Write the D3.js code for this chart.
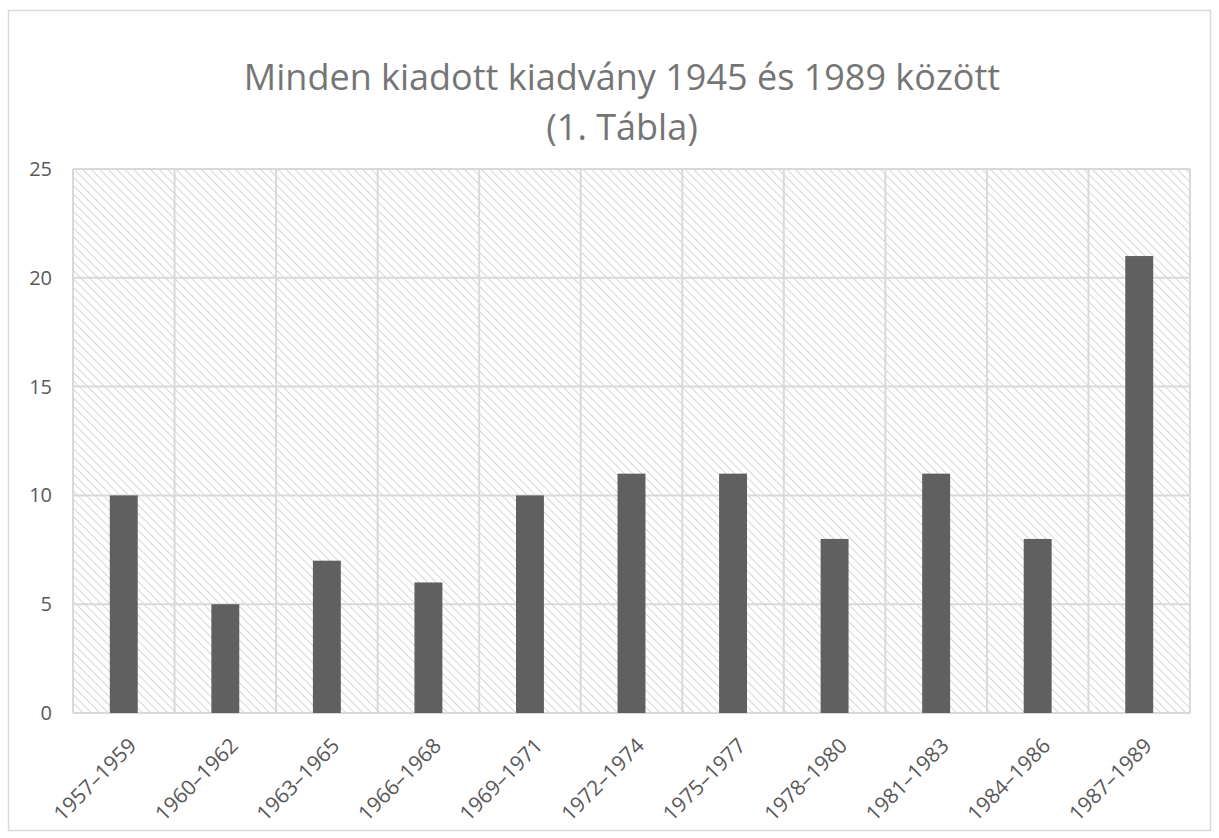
<!DOCTYPE html>
<html>
<head>
<meta charset="utf-8">
<script src="https://cdn.jsdelivr.net/npm/d3@7/dist/d3.min.js"></script>
<style>
  body { margin: 0; background: #fff; }
  text { font-family: "Open Sans", "Noto Sans", sans-serif; fill: #595959; }
</style>
</head>
<body>
<svg id="chart"></svg>
<script>
var categories = ["1957–1959", "1960–1962", "1963–1965", "1966–1968", "1969–1971",
                  "1972–1974", "1975–1977", "1978–1980", "1981–1983", "1984–1986", "1987–1989"];
var values = [10, 5, 7, 6, 10, 11, 11, 8, 11, 8, 21];
var yTicks = [0, 5, 10, 15, 20, 25];
var titleLines = ["Minden kiadott kiadvány 1945 és 1989 között", "(1. Tábla)"];

var W = 1219, H = 838,
    margin = {top: 169, right: 29, bottom: 125, left: 73},
    width = W - margin.left - margin.right,
    height = H - margin.top - margin.bottom;

var svg = d3.select("#chart").attr("width", W).attr("height", H);

// hatch pattern for plot background
var defs = svg.append("defs");
defs.append("pattern")
    .attr("id", "hatch")
    .attr("patternUnits", "userSpaceOnUse")
    .attr("width", 6).attr("height", 6)
    .attr("patternTransform", "rotate(-45)")
  .append("line")
    .attr("x1", 0).attr("y1", 0).attr("x2", 0).attr("y2", 6)
    .attr("stroke", "#d6d6d6").attr("stroke-width", 2);

// outer border
svg.append("rect")
    .attr("x", 8.5).attr("y", 10.5)
    .attr("width", W - 17).attr("height", H - 18)
    .attr("fill", "none").attr("stroke", "#d9d9d9").attr("stroke-width", 1.5);

// title
svg.append("text")
    .attr("x", 622).attr("y", 90)
    .attr("text-anchor", "middle")
    .style("font-size", "36px")
    .style("fill", "#757575")
    .selectAll("tspan")
    .data(titleLines)
  .enter().append("tspan")
    .attr("x", 622)
    .attr("dy", function(d, i) { return i === 0 ? 0 : 50; })
    .text(function(d) { return d; });

var g = svg.append("g")
    .attr("transform", "translate(" + margin.left + "," + margin.top + ")");

var x = d3.scaleBand().domain(categories).range([0, width]).paddingInner(0).paddingOuter(0),
    y = d3.scaleLinear().domain([0, 25]).range([height, 0]);

g.append("rect")
    .attr("width", width).attr("height", height)
    .attr("fill", "url(#hatch)");

// horizontal gridlines
g.selectAll(".hgrid")
    .data(yTicks)
  .enter().append("line")
    .attr("class", "hgrid")
    .attr("x1", 0).attr("x2", width)
    .attr("y1", function(d) { return y(d); })
    .attr("y2", function(d) { return y(d); })
    .attr("stroke", "#d9d9d9").attr("stroke-width", 2);

// vertical gridlines at category boundaries
var bounds = categories.map(function(c) { return x(c); }).concat([width]);
g.selectAll(".vgrid")
    .data(bounds)
  .enter().append("line")
    .attr("class", "vgrid")
    .attr("x1", function(d) { return d; })
    .attr("x2", function(d) { return d; })
    .attr("y1", 0).attr("y2", height)
    .attr("stroke", "#d9d9d9").attr("stroke-width", 2);

// bars
var barW = x.bandwidth() * 0.275;
g.selectAll(".bar")
    .data(values)
  .enter().append("rect")
    .attr("class", "bar")
    .attr("x", function(d, i) { return x(categories[i]) + x.bandwidth() / 2 - barW / 2; })
    .attr("y", function(d) { return y(d); })
    .attr("width", barW)
    .attr("height", function(d) { return height - y(d); })
    .attr("fill", "#606060");

// y axis labels
var yAxis = g.append("g")
    .call(d3.axisLeft(y).tickValues(yTicks).tickSize(0).tickPadding(21));
yAxis.select(".domain").remove();
yAxis.selectAll("text").style("font-size", "20px").style("fill", "#595959");

// x axis labels
var xAxis = g.append("g")
    .attr("transform", "translate(0," + height + ")")
    .call(d3.axisBottom(x).tickSize(0));
xAxis.select(".domain").remove();
xAxis.selectAll("text")
    .style("font-size", "21px")
    .style("fill", "#595959")
    .style("text-anchor", "end")
    .attr("x", 0)
    .attr("y", 0)
    .attr("dy", 0)
    .attr("transform", "translate(14,34) rotate(-45)");
</script>
</body>
</html>
